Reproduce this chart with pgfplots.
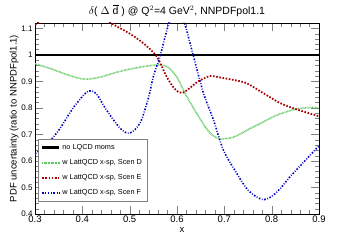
\documentclass[border=0pt]{standalone}
\usepackage{pgfplots}
\pgfplotsset{compat=1.18}
\usepackage{fontspec}
\setmainfont{Liberation Sans}
\definecolor{cgreen}{RGB}{90,200,90}
\definecolor{cred}{RGB}{170,0,0}
\definecolor{cblue}{RGB}{0,0,200}
\begin{document}
\begin{tikzpicture}
\useasboundingbox (-35pt,-26pt) rectangle (320pt,214pt);
\begin{axis}[
  scale only axis, width=284pt, height=191pt,
  xmin=0.3, xmax=0.9, ymin=0.4, ymax=1.12,
  xtick={0.3,0.4,...,0.9}, ytick={0.4,0.5,...,1.1},
  minor x tick num=4, minor y tick num=4,
  xticklabels={0.3,0.4,0.5,0.6,0.7,0.8,0.9},
  yticklabels={0.4,0.5,0.6,0.7,0.8,0.9,1,1.1},
  tick align=inside, major tick length=8pt, minor tick length=4pt,
  xtick pos=both, ytick pos=both,
  /pgf/number format/assume math mode=true,
  xticklabel style={font=\fontsize{9.5}{10}\selectfont, yshift=1.5pt},
  yticklabel style={font=\fontsize{8}{9}\selectfont, xshift=1pt},
  xlabel={x}, ylabel={PDF uncertainty (ratio to NNPDFpol1.1)},
  label style={font=\fontsize{9.5}{10}\selectfont},
  xlabel style={yshift=2pt, xshift=5pt},
  ylabel style={yshift=-4pt},
  title={$\delta$( $\Delta$ $\overline{\mathrm{d}}$ ) @ Q$^2$=4 GeV$^2$, NNPDFpol1.1},
  title style={font=\fontsize{10.5}{11}\selectfont, yshift=-3pt},
  axis line style={line width=0.8pt},
  legend style={at={(axis description cs:0.01,0.393)}, anchor=north west,
    draw=gray, line width=0.6pt, fill=white,
    font=\fontsize{7.3}{8.5}\selectfont, row sep=4.6pt, inner xsep=3pt, inner ysep=3pt},
  legend cell align=left,
  legend image code/.code={\draw[#1] (0cm,0cm) -- (0.6cm,0cm);},
]
\addplot[black, line width=2.2pt] coordinates {(0.3,1.0) (0.9,1.0)};
\addlegendentry{no LQCD moms}
\addplot[cgreen, line width=1.6pt, dash pattern=on 0.7pt off 0.7pt, smooth] coordinates {
(0.30,0.966) (0.33,0.950) (0.36,0.930) (0.39,0.913) (0.41,0.908) (0.44,0.917)
(0.47,0.933) (0.50,0.946) (0.53,0.956) (0.56,0.962) (0.58,0.955) (0.60,0.915)
(0.62,0.845) (0.65,0.755) (0.67,0.705) (0.69,0.684) (0.72,0.690) (0.75,0.718)
(0.78,0.745) (0.81,0.772) (0.85,0.795) (0.88,0.801) (0.90,0.801)};
\addlegendentry{w LattQCD x-sp, Scen D}
\addplot[cred, line width=1.8pt, dash pattern=on 1.6pt off 1.6pt, smooth] coordinates {
(0.30,1.112) (0.32,1.135) (0.36,1.160) (0.40,1.168) (0.44,1.140) (0.47,1.110)
(0.50,1.080) (0.53,1.042) (0.557,0.994) (0.578,0.918) (0.595,0.872) (0.61,0.856)
(0.627,0.875) (0.645,0.900) (0.67,0.920) (0.69,0.915) (0.72,0.905) (0.747,0.893)
(0.78,0.858) (0.818,0.818) (0.85,0.796) (0.875,0.782) (0.90,0.768)};
\addlegendentry{w LattQCD x-sp, Scen E}
\addplot[cblue, line width=1.6pt, dash pattern=on 1.6pt off 1.6pt on 0.8pt off 1.6pt, smooth] coordinates {
(0.30,0.626) (0.33,0.672) (0.353,0.723) (0.375,0.785) (0.392,0.826) (0.413,0.864)
(0.43,0.852) (0.451,0.792) (0.48,0.723) (0.50,0.705) (0.522,0.743) (0.54,0.840)
(0.55,0.918) (0.564,0.994) (0.582,1.113) (0.60,1.19) (0.617,1.113) (0.634,1.0)
(0.656,0.855) (0.677,0.755) (0.698,0.641) (0.726,0.554) (0.75,0.490) (0.779,0.455)
(0.80,0.466) (0.82,0.500) (0.839,0.541) (0.87,0.600) (0.895,0.648) (0.90,0.656)};
\addlegendentry{w LattQCD x-sp, Scen F}
\end{axis}
\end{tikzpicture}
\end{document}
